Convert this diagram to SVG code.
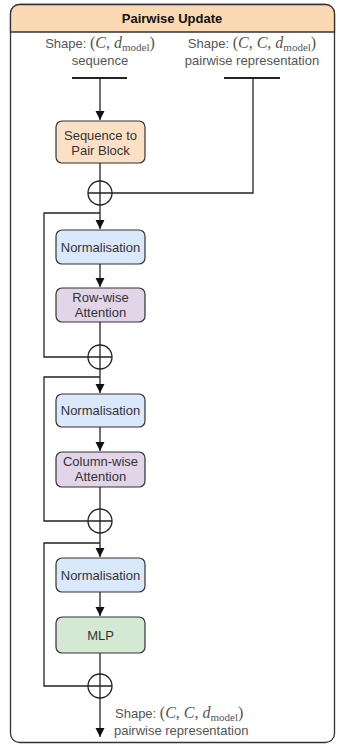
<svg xmlns="http://www.w3.org/2000/svg" width="337" height="746" viewBox="0 0 337 746">
<style>
.ln{fill:none;stroke:#222;stroke-width:1.3}
.box{stroke:#333;stroke-width:1.2}
.bt{font-family:"Liberation Sans",Arial,sans-serif;font-size:13px;fill:#333;text-anchor:middle}
.lb{font-family:"Liberation Sans",Arial,sans-serif;font-size:13px;fill:#555}
.m{font-family:"Liberation Serif","Times New Roman",serif;font-size:16px}
.it{font-style:italic}
.sub{font-family:"Liberation Serif","Times New Roman",serif;font-size:11px}
.plus{fill:#fff;stroke:#222;stroke-width:1.3}
</style>
<defs>
<marker id="ah" markerWidth="10" markerHeight="10" refX="9" refY="5" orient="auto" markerUnits="userSpaceOnUse">
<path d="M0,0.5 L9,5 L0,9.5 Z" fill="#111"/>
</marker>
</defs>
<g id="container">
<rect x="10.5" y="4.5" width="324" height="738" rx="9" fill="#fff" stroke="#333" stroke-width="1.3"/>
<path d="M10.5,32 V13.5 a9,9 0 0 1 9,-9 H325.5 a9,9 0 0 1 9,9 V32 Z" fill="#fad9b3" stroke="#333" stroke-width="1.3"/>
<text x="172" y="23" class="bt" style="font-weight:bold;fill:#111">Pairwise Update</text>
</g>
<g id="label-seq">
<text x="100" y="48" class="lb" text-anchor="middle">Shape: <tspan class="m">(<tspan class="it">C</tspan>, <tspan class="it">d</tspan></tspan><tspan class="sub" dy="3">model</tspan><tspan class="m" dy="-3">)</tspan></text>
<text x="100" y="65" class="lb" text-anchor="middle">sequence</text>
<line x1="72" y1="78" x2="127" y2="78" stroke="#222" stroke-width="2"/>
</g>
<g id="label-pair">
<text x="252" y="48" class="lb" text-anchor="middle">Shape: <tspan class="m">(<tspan class="it">C</tspan>, <tspan class="it">C</tspan>, <tspan class="it">d</tspan></tspan><tspan class="sub" dy="3">model</tspan><tspan class="m" dy="-3">)</tspan></text>
<text x="252" y="65" class="lb" text-anchor="middle">pairwise representation</text>
<line x1="224" y1="78" x2="280" y2="78" stroke="#222" stroke-width="2"/>
</g>
<g id="connectors">
<path class="ln" d="M100,78 V120" marker-end="url(#ah)"/>
<path class="ln" d="M253,78 V193 H112"/>
<path class="ln" d="M100,163 V229" marker-end="url(#ah)"/>
<path class="ln" d="M100,213 H44 V357 H88"/>
<path class="ln" d="M100,264 V287" marker-end="url(#ah)"/>
<path class="ln" d="M100,322 V393" marker-end="url(#ah)"/>
<path class="ln" d="M100,377 H44 V521 H88"/>
<path class="ln" d="M100,427 V451" marker-end="url(#ah)"/>
<path class="ln" d="M100,487 V557" marker-end="url(#ah)"/>
<path class="ln" d="M100,543 H44 V686 H88"/>
<path class="ln" d="M100,592 V616" marker-end="url(#ah)"/>
<path class="ln" d="M100,653 V737" marker-end="url(#ah)"/>
</g>
<g id="seq2pair">
<rect class="box" x="56" y="121" width="89" height="42" rx="6" fill="#fce0c6"/>
<text x="100.5" y="140" class="bt">Sequence to</text>
<text x="100.5" y="155" class="bt">Pair Block</text>
</g>
<g id="add1"><circle class="plus" cx="100" cy="193" r="12"/><path class="ln" d="M88,193 H112 M100,181 V205"/></g>
<g id="norm1">
<rect class="box" x="56" y="230" width="89" height="34" rx="6" fill="#dae8fc"/>
<text x="100.5" y="252" class="bt">Normalisation</text>
</g>
<g id="rowatt">
<rect class="box" x="56" y="288" width="89" height="34" rx="6" fill="#e1d5e7"/>
<text x="100.5" y="302" class="bt">Row-wise</text>
<text x="100.5" y="317" class="bt">Attention</text>
</g>
<g id="add2"><circle class="plus" cx="100" cy="357" r="12"/><path class="ln" d="M88,357 H112 M100,345 V369"/></g>
<g id="norm2">
<rect class="box" x="56" y="394" width="89" height="33" rx="6" fill="#dae8fc"/>
<text x="100.5" y="415" class="bt">Normalisation</text>
</g>
<g id="colatt">
<rect class="box" x="56" y="452" width="89" height="35" rx="6" fill="#e1d5e7"/>
<text x="100.5" y="466" class="bt">Column-wise</text>
<text x="100.5" y="481" class="bt">Attention</text>
</g>
<g id="add3"><circle class="plus" cx="100" cy="521" r="12"/><path class="ln" d="M88,521 H112 M100,509 V533"/></g>
<g id="norm3">
<rect class="box" x="56" y="558" width="89" height="34" rx="6" fill="#dae8fc"/>
<text x="100.5" y="580" class="bt">Normalisation</text>
</g>
<g id="mlp">
<rect class="box" x="56" y="617" width="89" height="36" rx="6" fill="#d5e8d4"/>
<text x="100.5" y="640" class="bt">MLP</text>
</g>
<g id="add4"><circle class="plus" cx="100" cy="686" r="12"/><path class="ln" d="M88,686 H112 M100,674 V698"/></g>
<g id="label-out">
<text x="115" y="718" class="lb">Shape: <tspan class="m">(<tspan class="it">C</tspan>, <tspan class="it">C</tspan>, <tspan class="it">d</tspan></tspan><tspan class="sub" dy="3">model</tspan><tspan class="m" dy="-3">)</tspan></text>
<text x="114" y="735" class="lb">pairwise representation</text>
</g>
</svg>
